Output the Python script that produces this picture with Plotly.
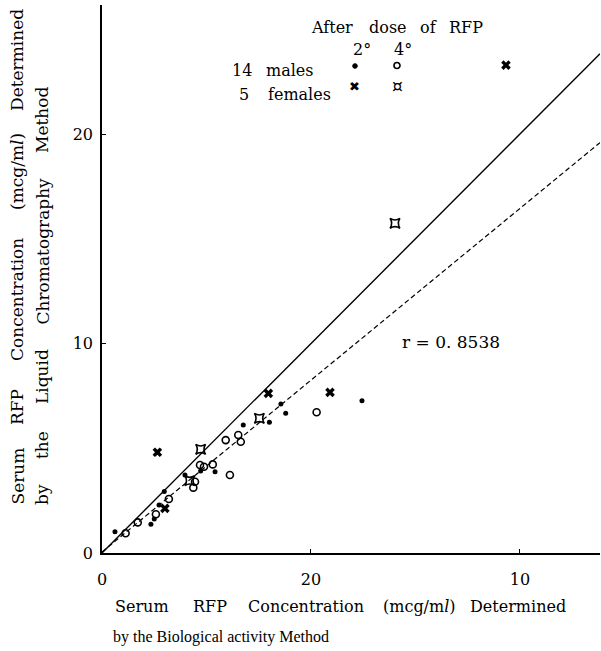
import plotly.graph_objects as go

# ---------------- data ----------------
male_2h_x = [0.62, 2.34, 2.50, 2.73, 2.98, 3.97, 4.72, 5.41, 6.76, 8.01, 8.56, 8.79, 12.44]
male_2h_y = [1.02, 1.37, 1.62, 2.29, 2.93, 3.72, 3.91, 3.88, 6.11, 6.24, 7.11, 6.67, 7.27]

male_4h_x = [1.13, 1.71, 2.58, 3.20, 4.45, 4.37, 4.69, 4.88, 5.30, 6.12, 5.92, 6.52, 6.64, 10.27]
male_4h_y = [0.94, 1.46, 1.85, 2.58, 3.40, 3.12, 4.20, 4.12, 4.23, 3.72, 5.39, 5.63, 5.31, 6.72]

female_2h_x = [2.65, 3.01, 7.96, 10.91, 19.33]
female_2h_y = [4.81, 2.13, 7.62, 7.67, 23.29]

female_4h_x = [4.20, 4.72, 7.53, 14.02]
female_4h_y = [3.45, 4.95, 6.43, 15.74]

reg_slope = 0.82
reg_intercept = 0.05
r_text = "r = 0. 8538"

x_tick_vals = [0, 10, 20]
x_tick_text = ["0", "20", "10"]
y_tick_vals = [0, 10, 20]
y_tick_text = ["0", "10", "20"]

x_range = [0, 23.83]
y_range = [0, 26.16]

# ---------------- layout geometry ----------------
W, H = 601, 651
L, R, T, B = 102, 1, 5, 98
PW, PH = W - L - R, H - T - B
SERIF = "DejaVu Serif"


def px_x(px):
    return (px - L) / PW


def px_y(py):
    return (H - B - py) / PH


def ann(text, px, py, size=15, angle=0, xanchor="center", yanchor="middle", family=SERIF):
    return dict(text=text, x=px_x(px), y=px_y(py), xref="paper", yref="paper",
                showarrow=False, textangle=angle, xanchor=xanchor, yanchor=yanchor,
                font=dict(size=size, family=family, color="black"))


def circle(cx, cy, r, filled, lw=1.6):
    return dict(type="circle", xref="paper", yref="paper",
                x0=px_x(cx - r), x1=px_x(cx + r), y0=px_y(cy + r), y1=px_y(cy - r),
                line=dict(color="black", width=lw),
                fillcolor="black" if filled else "rgba(0,0,0,0)")


fig = go.Figure()

x_end = x_range[1]
fig.add_trace(go.Scatter(x=[0, x_end], y=[0, x_end], mode="lines",
                         line=dict(color="black", width=1.4), showlegend=False))
fig.add_trace(go.Scatter(x=[0, x_end], y=[reg_intercept, reg_slope * x_end + reg_intercept],
                         mode="lines", line=dict(color="black", width=1.2, dash="5px,3px"),
                         showlegend=False))

fig.add_trace(go.Scatter(x=male_2h_x, y=male_2h_y, mode="markers",
                         marker=dict(symbol="circle", size=5, color="black"), showlegend=False))
fig.add_trace(go.Scatter(x=male_4h_x, y=male_4h_y, mode="markers",
                         marker=dict(symbol="circle-open", size=7, color="black",
                                     line=dict(width=1.6, color="black")), showlegend=False))
fig.add_trace(go.Scatter(x=female_2h_x, y=female_2h_y, mode="markers",
                         marker=dict(symbol="x", size=8.5, color="black",
                                     line=dict(width=0)), showlegend=False))
fig.add_trace(go.Scatter(x=female_4h_x, y=female_4h_y, mode="markers",
                         marker=dict(symbol="star-square-open", size=9, color="black",
                                     line=dict(width=1.6, color="black")), showlegend=False))

annotations = []
# x-axis title
for word, cx in [("Serum", 141.5), ("RFP", 210), ("Concentration", 306),
                 ("(mcg/m<i>l</i>)", 419.5), ("Determined", 517.5)]:
    annotations.append(ann(word, cx, 606, size=16))
annotations.append(ann("by the Biological activity Method", 111, 637, size=16,
                       xanchor="left", family="Liberation Serif"))

# y-axis title
for word, cy in [("Serum", 476.5), ("RFP", 407), ("Concentration", 300),
                 ("(mcg/m<i>l</i>)", 172), ("Determined", 60)]:
    annotations.append(ann(word, 17, cy, size=17, angle=-90))
for word, cy in [("by", 495), ("the", 445), ("Liquid", 377), ("Chromatography", 251.5),
                 ("Method", 120)]:
    annotations.append(ann(word, 42, cy, size=17, angle=-90))

# legend block
for word, cx in [("After", 331.5), ("dose", 387.5), ("of", 428), ("RFP", 466)]:
    annotations.append(ann(word, cx, 28, size=16))
annotations.append(ann("2°", 362, 49, size=16))
annotations.append(ann("4°", 403, 49, size=16))
annotations.append(ann("14", 241.5, 70, size=16))
annotations.append(ann("males", 290, 70, size=16))
annotations.append(ann("5", 243.5, 95, size=16))
annotations.append(ann("females", 299, 95, size=16))
annotations.append(ann("✖", 354, 86, size=13, family="DejaVu Sans"))
annotations.append(ann("¤", 397, 86, size=17, family="DejaVu Sans"))

shapes = [circle(355, 66, 2.3, True, lw=1), circle(397, 65.5, 3, False)]

# correlation
annotations.append(ann(r_text, 400, 342, size=17, xanchor="left"))

fig.update_layout(
    width=W, height=H,
    margin=dict(l=L, r=R, t=T, b=B, pad=0),
    paper_bgcolor="white", plot_bgcolor="white",
    showlegend=False,
    annotations=annotations,
    shapes=shapes,
    xaxis=dict(range=x_range, tickvals=x_tick_vals, ticktext=x_tick_text,
               showgrid=False, zeroline=False, showline=True, linecolor="black", linewidth=1.5,
               ticks="inside", ticklen=4, tickcolor="black", tickwidth=1,
               ticklabelstandoff=11,
               tickfont=dict(family=SERIF, size=16, color="black")),
    yaxis=dict(range=y_range, tickvals=y_tick_vals, ticktext=y_tick_text,
               showgrid=False, zeroline=False, showline=True, linecolor="black", linewidth=1.5,
               ticks="inside", ticklen=4, tickcolor="black", tickwidth=1,
               ticklabelstandoff=4,
               tickfont=dict(family=SERIF, size=16, color="black")),
)

fig.write_html("out.html")
